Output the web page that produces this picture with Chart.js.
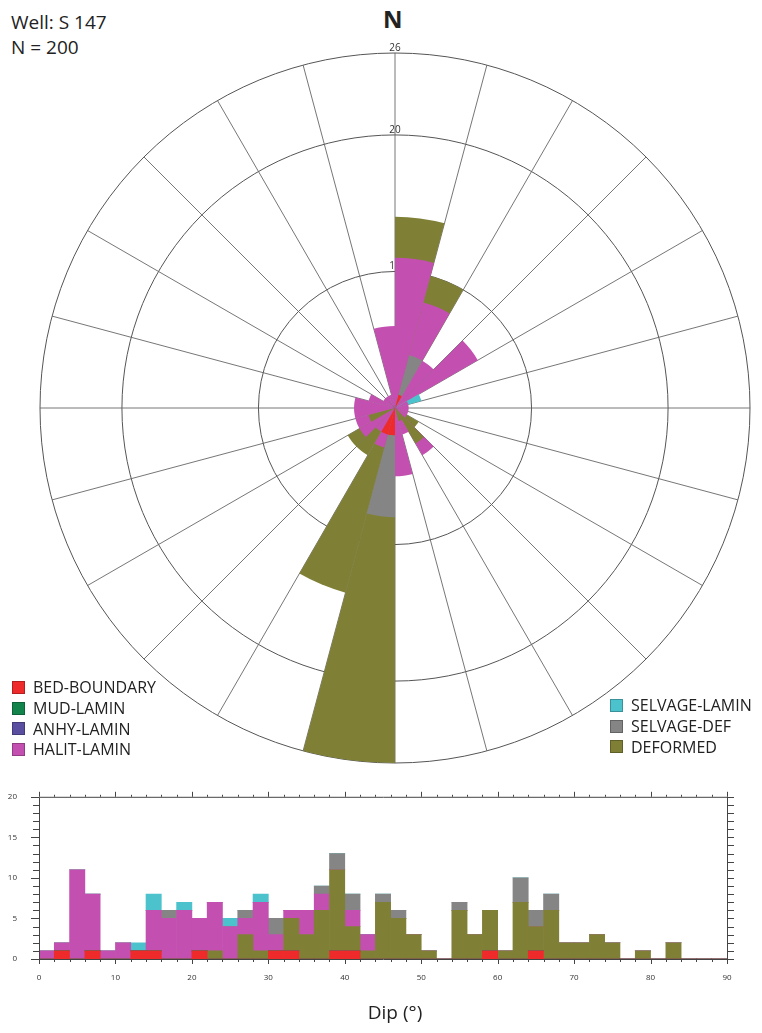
<!DOCTYPE html>
<html>
<head>
<meta charset="utf-8">
<script src="https://cdn.jsdelivr.net/npm/chart.js@4.4.1/dist/chart.umd.min.js"></script>
<style>
  body { margin: 0; width: 762px; height: 1033px; background: #fff; position: relative; overflow: hidden;
         font-family: "Open Sans", "Noto Sans", sans-serif; color: #222; }
  #rose { position: absolute; left: 39px; top: 40px; }
  #hist { position: absolute; left: 0; top: 770px; }
  .txt { position: absolute; white-space: nowrap; }
  .leg { position: absolute; font-size: 16px; line-height: 20px; }
  .leg div { height: 20.7px; display: flex; align-items: center; }
  .leg span { display: inline-block; width: 11px; height: 11px; margin-right: 8px; }
</style>
</head>
<body>
<div class="txt" style="left:11px; top:9px; font-size:19px;">Well: S 147</div>
<div class="txt" style="left:11px; top:34px; font-size:19px;">N = 200</div>
<div class="txt" style="left:383px; top:2px; font-size:24px; font-weight:bold;">N</div>

<canvas id="rose" width="712" height="724"></canvas>
<canvas id="hist" width="762" height="230"></canvas>

<div class="leg" id="legLeft" style="left:12px; top:677px;"></div>
<div class="leg" id="legRight" style="left:610px; top:695px;"></div>
<div class="txt" style="left:295px; width:200px; text-align:center; top:999px; font-size:19px;">Dip (°)</div>

<script>
// categories and colours
var categories = ['BED-BOUNDARY', 'MUD-LAMIN', 'ANHY-LAMIN', 'HALIT-LAMIN', 'SELVAGE-LAMIN', 'SELVAGE-DEF', 'DEFORMED'];
var colors = ['#ee2a2b', '#12834a', '#5a4ea0', '#c350b0', '#4cc3cc', '#858585', '#7f8036'];

// rose diagram: 24 sectors of 15 degrees, clockwise from north
var sectorLabels = ['0', '15', '30', '45', '60', '75', '90', '105', '120', '135', '150', '165',
                    '180', '195', '210', '225', '240', '255', '270', '285', '300', '315', '330', '345'];
var roseBed      = [0, 1, 0, 0, 0, 0, 0, 0, 0, 0, 0, 0, 2, 2, 0, 0, 0, 0, 0, 0, 0, 0, 0, 0];
var roseMud      = [0, 0, 0, 0, 0, 0, 0, 0, 0, 0, 0, 0, 0, 0, 0, 0, 0, 0, 0, 0, 0, 0, 0, 0];
var roseAnhy     = [0, 0, 0, 0, 0, 0, 0, 0, 0, 0, 0, 0, 0, 0, 0, 0, 0, 0, 0, 0, 0, 0, 0, 0];
var roseHalit    = [11, 8, 4, 7, 1, 1, 1, 1, 1, 4, 2, 5, 0, 3, 2, 3, 3, 3, 3, 2, 1, 1, 1, 6];
var roseSelvLam  = [0, 0, 0, 0, 2, 0, 0, 0, 0, 0, 0, 0, 0, 0, 0, 0, 0, 0, 0, 0, 0, 0, 0, 0];
var roseSelvDef  = [0, 4, 0, 0, 0, 0, 0, 0, 0, 0, 0, 0, 8, 0, 0, 0, 0, 0, 0, 0, 0, 0, 0, 0];
var roseDeformed = [14, 10, 0, 0, 0, 0, 0, 0, 2, 3, 1, 0, 26, 14, 4, 4, 2, 0, 0, 0, 0, 0, 0, 0];
var roseTicks = [0, 10, 20, 26];

// dip histogram: 2 degree bins from 0 to 90 (bin centres)
var dipBins = [1, 3, 5, 7, 9, 11, 13, 15, 17, 19, 21, 23, 25, 27, 29, 31, 33, 35, 37, 39, 41, 43, 45,
               47, 49, 51, 53, 55, 57, 59, 61, 63, 65, 67, 69, 71, 73, 75, 77, 79, 81, 83, 85, 87, 89];
var dipBed      = [0,1,0,1,0,0,1,1,0,0,1,0,0,0,0,1,1,0,0,1,1,0,0,0,0,0,0,0,0,1,0,0,1,0,0,0,0,0,0,0,0,0,0,0,0];
var dipMud      = [0,0,0,0,0,0,0,0,0,0,0,0,0,0,0,0,0,0,0,0,0,0,0,0,0,0,0,0,0,0,0,0,0,0,0,0,0,0,0,0,0,0,0,0,0];
var dipAnhy     = [0,0,0,0,0,0,0,0,0,0,0,0,0,0,0,0,0,0,0,0,0,0,0,0,0,0,0,0,0,0,0,0,0,0,0,0,0,0,0,0,0,0,0,0,0];
var dipDeformed = [0,0,0,0,0,0,0,0,0,0,0,1,0,3,1,0,4,3,6,10,3,1,7,5,3,1,0,6,3,5,1,7,3,6,2,2,3,2,0,1,0,2,0,0,0];
var dipHalit    = [1,1,11,7,1,2,0,5,5,6,4,6,4,2,6,2,1,3,2,0,2,2,0,0,0,0,0,0,0,0,0,0,0,0,0,0,0,0,0,0,0,0,0,0,0];
var dipSelvDef  = [0,0,0,0,0,0,0,0,1,0,0,0,0,1,0,2,0,0,1,2,2,0,1,1,0,0,0,1,0,0,0,3,2,2,0,0,0,0,0,0,0,0,0,0,0];
var dipSelvLam  = [0,0,0,0,0,0,1,2,0,1,0,0,1,0,1,0,0,0,0,0,0,0,0,0,0,0,0,0,0,0,0,0,0,0,0,0,0,0,0,0,0,0,0,0,0];
var dipTicks = [0, 10, 20, 30, 40, 50, 60, 70, 80, 90];

// legends
function addLegend(id, idx) {
  var box = document.getElementById(id);
  idx.forEach(function(i) {
    var row = document.createElement('div');
    var sw = document.createElement('span');
    sw.style.background = colors[i];
    sw.style.border = '1px solid rgba(0,0,0,0.25)';
    row.appendChild(sw);
    row.appendChild(document.createTextNode(categories[i]));
    box.appendChild(row);
  });
}
addLegend('legLeft', [0, 1, 2, 3]);
addLegend('legRight', [4, 5, 6]);

// rose: every category is a wedge from the centre, largest drawn behind
var roseSeries = [roseBed, roseMud, roseAnhy, roseHalit, roseSelvLam, roseSelvDef, roseDeformed];
var layers = [];
for (var s = 0; s < sectorLabels.length; s++) {
  var list = [];
  roseSeries.forEach(function(arr, c) { if (arr[s] > 0) list.push({v: arr[s], c: c}); });
  list.sort(function(a, b) { return b.v - a.v; });
  list.forEach(function(item, k) {
    if (!layers[k]) {
      layers[k] = {data: sectorLabels.map(function() { return 0; }),
                   backgroundColor: sectorLabels.map(function() { return 'rgba(0,0,0,0)'; })};
    }
    layers[k].data[s] = item.v;
    layers[k].backgroundColor[s] = colors[item.c];
  });
}
var roseDatasets = layers.map(function(l, k) {
  return {data: l.data, backgroundColor: l.backgroundColor, borderWidth: 0, order: -k};
});

var roseLabels = {
  id: 'roseLabels',
  beforeDatasetsDraw: function(chart) {
    var sc = chart.scales.r, ctx = chart.ctx;
    ctx.save();
    ctx.font = '10px "Open Sans", sans-serif';
    ctx.fillStyle = '#333';
    ctx.textAlign = 'center';
    ctx.textBaseline = 'middle';
    roseTicks.forEach(function(v) {
      if (v === 0) return;
      ctx.fillText(String(v), sc.xCenter, sc.yCenter - sc.getDistanceFromCenterForValue(v) - 5);
    });
    ctx.restore();
  }
};

new Chart(document.getElementById('rose'), {
  type: 'polarArea',
  data: { labels: sectorLabels, datasets: roseDatasets },
  options: {
    responsive: false,
    animation: false,
    layout: { padding: { top: 13, left: 1, right: 1, bottom: 1 } },
    plugins: { legend: { display: false }, tooltip: { enabled: false } },
    scales: {
      r: {
        min: 0,
        max: 26,
        startAngle: 0,
        afterBuildTicks: function(scale) { scale.ticks = roseTicks.map(function(v) { return {value: v}; }); },
        ticks: { display: false },
        grid: { circular: true, color: '#555', lineWidth: 1 },
        angleLines: { display: true, color: '#666', lineWidth: 0.9 },
        pointLabels: { display: false }
      }
    }
  },
  plugins: [roseLabels]
});

// histogram, stacked from the bottom
var histSeries = [
  {data: dipBed, c: 0}, {data: dipMud, c: 1}, {data: dipAnhy, c: 2}, {data: dipDeformed, c: 6},
  {data: dipHalit, c: 3}, {data: dipSelvDef, c: 5}, {data: dipSelvLam, c: 4}
];

var frameTicks = {
  id: 'frameTicks',
  afterDraw: function(chart) {
    var ctx = chart.ctx, xs = chart.scales.x, ys = chart.scales.y, a = chart.chartArea;
    ctx.save();
    ctx.strokeStyle = '#444';
    ctx.lineWidth = 1;
    ctx.beginPath();
    ctx.rect(a.left + 0.5, a.top + 0.5, a.right - a.left, a.bottom - a.top);
    for (var v = 0; v <= 90; v += 2) {
      var x = Math.round(xs.getPixelForValue(v)) + 0.5;
      var major = v % 10 === 0;
      ctx.moveTo(x, a.bottom); ctx.lineTo(x, a.bottom + (major ? 5 : 3));
      ctx.moveTo(x, a.top); ctx.lineTo(x, a.top - (major ? 5 : 2));
    }
    for (var w = 0; w <= 20; w += 1) {
      var y = Math.round(ys.getPixelForValue(w)) + 0.5;
      ctx.moveTo(a.left, y); ctx.lineTo(a.left - (w % 5 === 0 ? 8 : 6), y);
      ctx.moveTo(a.right, y); ctx.lineTo(a.right + 7, y);
    }
    ctx.stroke();
    ctx.restore();
  }
};

new Chart(document.getElementById('hist'), {
  type: 'bar',
  data: {
    labels: dipBins,
    datasets: histSeries.map(function(s) {
      return {label: categories[s.c], data: s.data, backgroundColor: colors[s.c], borderWidth: 0,
              barPercentage: 1, categoryPercentage: 1};
    })
  },
  options: {
    responsive: false,
    animation: false,
    layout: { padding: { top: 9, right: 35, left: 0, bottom: 0 } },
    plugins: { legend: { display: false }, tooltip: { enabled: false } },
    scales: {
      x: {
        type: 'linear', stacked: true, min: 0, max: 90, offset: false,
        afterBuildTicks: function(scale) { scale.ticks = dipTicks.map(function(v) { return {value: v}; }); },
        afterFit: function(scale) { scale.height = 41; },
        grid: { display: false, drawTicks: false, offset: false },
        border: { display: false },
        ticks: { padding: 14, maxRotation: 0, color: '#333', font: { family: '"Open Sans", sans-serif', size: 8 } }
      },
      y: {
        stacked: true, min: 0, max: 20,
        afterFit: function(scale) { scale.width = 39; },
        grid: { display: false, drawTicks: false },
        border: { display: false },
        ticks: { stepSize: 5, padding: 22, color: '#333', font: { family: '"Open Sans", sans-serif', size: 8 } }
      }
    }
  },
  plugins: [frameTicks]
});
</script>
</body>
</html>
